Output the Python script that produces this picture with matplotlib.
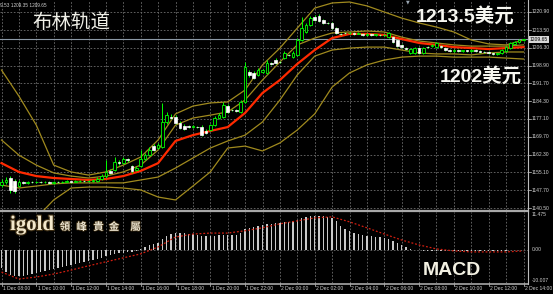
import matplotlib.pyplot as plt
import matplotlib.patheffects as pe
from matplotlib.lines import Line2D

W, H = 553, 294

# XAUUSD M15, 1 Dec 08:00 .. 2 Dec 14:00
opens = [1149.9, 1151.2, 1152.8, 1151.6, 1149.5, 1151.2, 1150.8, 1151.2, 1151.0, 1151.2,
         1151.0, 1151.2, 1150.8, 1151.2, 1151.0, 1151.2, 1151.4, 1151.2, 1151.4, 1151.6,
         1151.4, 1151.6, 1151.6, 1152.4, 1153.6, 1155.7, 1156.1, 1159.4, 1158.9, 1160.6,
         1157.7, 1156.1, 1157.7, 1160.6, 1162.2, 1165.9, 1165.1, 1165.5, 1175.8, 1177.8,
         1177.8, 1175.4, 1174.1, 1174.1, 1173.9, 1173.7, 1173.7, 1172.1, 1172.5, 1174.5,
         1177.4, 1177.8, 1182.3, 1180.7, 1180.5, 1179.9, 1184.0, 1196.3, 1195.9, 1195.1,
         1196.3, 1195.9, 1200.0, 1201.2, 1200.4, 1202.0, 1203.3, 1202.4, 1203.3, 1209.4,
         1212.7, 1215.6, 1218.9, 1219.3, 1217.6, 1216.4, 1216.4, 1214.3, 1211.9, 1212.3,
         1212.1, 1212.3, 1211.9, 1211.9, 1211.5, 1211.9, 1211.5, 1211.6, 1211.4, 1210.6,
         1210.6, 1209.4, 1207.4, 1206.1, 1204.1, 1204.1, 1206.1, 1204.1, 1206.5, 1206.9,
         1206.5, 1206.9, 1206.1, 1205.3, 1204.9, 1205.3, 1204.9, 1205.1, 1204.9, 1205.3,
         1204.9, 1204.5, 1204.3, 1204.1, 1203.7, 1204.1, 1204.9, 1206.1, 1207.8, 1208.6,
         1209.4]
highs = [1152.4, 1153.2, 1153.6, 1152.4, 1152.0, 1151.6, 1151.6, 1151.6, 1151.6, 1151.6,
         1151.5, 1151.4, 1151.6, 1151.5, 1151.6, 1151.8, 1151.7, 1151.8, 1152.0, 1151.8,
         1152.0, 1152.0, 1153.2, 1154.4, 1160.2, 1156.5, 1161.4, 1160.2, 1161.4, 1161.0,
         1158.1, 1157.7, 1164.3, 1163.1, 1165.5, 1166.8, 1167.2, 1183.6, 1179.9, 1179.1,
         1178.6, 1176.2, 1175.0, 1174.5, 1174.5, 1174.1, 1174.5, 1172.9, 1175.0, 1178.2,
         1179.5, 1184.0, 1183.2, 1181.1, 1181.0, 1184.8, 1200.4, 1197.1, 1196.7, 1197.9,
         1197.5, 1201.2, 1200.4, 1202.0, 1200.8, 1204.9, 1203.7, 1204.9, 1210.2, 1218.9,
         1216.4, 1219.3, 1219.7, 1220.1, 1218.0, 1216.8, 1216.8, 1214.7, 1212.3, 1212.7,
         1212.7, 1212.7, 1212.5, 1212.3, 1212.3, 1212.3, 1211.9, 1211.9, 1211.9, 1212.7,
         1211.1, 1209.8, 1207.8, 1206.5, 1206.1, 1206.5, 1206.5, 1206.5, 1206.9, 1207.8,
         1208.6, 1207.4, 1206.5, 1205.7, 1205.7, 1205.7, 1205.5, 1205.5, 1205.7, 1205.7,
         1205.3, 1204.9, 1204.7, 1204.5, 1204.1, 1205.7, 1206.9, 1208.6, 1209.0, 1209.8,
         1210.0]
lows = [1149.1, 1150.4, 1146.7, 1146.7, 1149.1, 1150.4, 1150.4, 1150.6, 1150.8, 1150.8,
        1150.7, 1150.4, 1150.4, 1150.7, 1150.8, 1151.0, 1150.9, 1151.0, 1151.2, 1151.0,
        1151.2, 1151.2, 1151.2, 1152.0, 1152.8, 1154.4, 1155.7, 1158.1, 1158.5, 1159.4,
        1154.9, 1155.7, 1157.3, 1160.2, 1161.8, 1163.9, 1164.7, 1165.1, 1175.0, 1177.0,
        1175.0, 1172.9, 1172.5, 1173.5, 1173.5, 1173.3, 1170.0, 1170.8, 1172.1, 1174.1,
        1177.0, 1177.4, 1179.5, 1180.1, 1179.9, 1179.5, 1183.6, 1194.2, 1193.4, 1194.6,
        1195.9, 1195.5, 1199.2, 1199.6, 1200.0, 1201.6, 1202.8, 1202.0, 1202.8, 1209.0,
        1212.3, 1215.2, 1217.2, 1216.8, 1216.0, 1215.8, 1213.9, 1211.9, 1211.5, 1211.7,
        1211.9, 1211.5, 1211.7, 1211.1, 1211.1, 1211.1, 1211.1, 1211.1, 1211.1, 1210.2,
        1208.2, 1206.5, 1206.1, 1205.3, 1203.7, 1203.7, 1203.7, 1203.7, 1206.1, 1206.5,
        1206.1, 1206.1, 1204.9, 1204.5, 1204.5, 1204.5, 1204.5, 1204.5, 1204.5, 1204.5,
        1204.1, 1203.9, 1203.7, 1203.3, 1203.3, 1203.7, 1204.5, 1205.7, 1207.4, 1208.2,
        1209.0]
closes = [1151.2, 1152.0, 1147.9, 1147.5, 1151.2, 1150.8, 1151.2, 1151.0, 1151.2, 1151.0,
          1151.2, 1150.8, 1151.2, 1151.0, 1151.2, 1151.4, 1151.2, 1151.4, 1151.6, 1151.4,
          1151.6, 1151.6, 1152.4, 1153.6, 1155.3, 1154.9, 1159.4, 1158.9, 1160.6, 1160.2,
          1155.7, 1156.9, 1160.6, 1162.2, 1164.3, 1164.3, 1166.3, 1175.8, 1178.6, 1177.6,
          1175.4, 1173.3, 1172.9, 1173.9, 1174.1, 1173.6, 1170.4, 1171.3, 1174.5, 1177.4,
          1178.6, 1182.8, 1179.9, 1180.5, 1180.3, 1184.0, 1198.3, 1195.1, 1193.8, 1197.1,
          1197.1, 1200.0, 1199.6, 1200.0, 1200.3, 1204.1, 1203.1, 1204.1, 1209.4, 1214.3,
          1215.6, 1218.4, 1217.6, 1217.2, 1216.4, 1216.2, 1214.3, 1212.3, 1211.8, 1212.1,
          1212.3, 1211.9, 1212.1, 1211.5, 1211.9, 1211.5, 1211.6, 1211.4, 1211.5, 1212.3,
          1208.6, 1206.9, 1206.5, 1205.7, 1205.7, 1206.1, 1204.1, 1206.1, 1206.4, 1207.4,
          1208.2, 1206.5, 1205.3, 1204.9, 1205.3, 1204.9, 1205.1, 1204.9, 1205.3, 1204.9,
          1204.5, 1204.3, 1204.1, 1203.7, 1203.9, 1205.3, 1206.5, 1208.2, 1208.6, 1209.4,
          1209.65]

line_idx = list(range(0, 121, 4))
ma_red = [1158.9, 1155.3, 1153.6, 1152.8, 1152.4, 1152.0, 1152.4, 1153.6, 1155.7, 1158.9,
          1168.0, 1170.4, 1172.1, 1173.7, 1179.5, 1187.7, 1193.0, 1199.6, 1205.3, 1210.2,
          1211.9, 1211.9, 1211.5, 1209.8, 1208.2, 1207.4, 1206.5, 1206.1, 1205.7, 1206.1,
          1206.5]
band_up_outer = [1197.1, 1186.4, 1174.5, 1158.1, 1155.3, 1154.0, 1155.3, 1158.1, 1161.4, 1168.4,
                 1179.1, 1182.3, 1183.6, 1184.0, 1188.9, 1199.2, 1206.1, 1214.3, 1222.5, 1224.6,
                 1225.0, 1223.4, 1220.9, 1218.4, 1216.4, 1214.7, 1212.7, 1209.4, 1207.8, 1207.4,
                 1209.4]
band_up_inner = [1168.4, 1162.2, 1158.1, 1154.9, 1153.6, 1152.8, 1153.6, 1155.3, 1158.1, 1164.3,
                 1174.5, 1177.4, 1178.6, 1179.9, 1184.8, 1193.0, 1200.4, 1207.4, 1210.2, 1212.3,
                 1212.7, 1213.1, 1212.7, 1210.6, 1209.0, 1208.2, 1207.4, 1206.9, 1206.9, 1206.9,
                 1207.4]
band_low_inner = [1149.9, 1148.7, 1149.5, 1150.4, 1150.8, 1150.8, 1150.8, 1150.8, 1152.0, 1153.2,
                  1156.9, 1161.0, 1165.1, 1168.0, 1170.4, 1175.8, 1184.8, 1195.1, 1202.8, 1205.3,
                  1206.1, 1206.5, 1206.5, 1205.3, 1204.1, 1203.7, 1203.7, 1203.3, 1204.1, 1204.5,
                  1204.5]
band_low_outer = [1119.2, 1127.4, 1136.4, 1143.8, 1148.7, 1149.1, 1149.1, 1148.7, 1147.9, 1145.0,
                  1143.8, 1149.5, 1155.3, 1165.1, 1165.9, 1163.9, 1167.2, 1172.5, 1179.1, 1190.1,
                  1195.9, 1199.2, 1201.2, 1202.4, 1202.8, 1202.8, 1202.4, 1202.4, 1202.4, 1202.0,
                  1201.6]

macd_hist = [-5.4, -6.7, -7.6, -7.9, -7.9, -7.9, -7.6, -7.3, -7.0, -6.7,
             -6.4, -6.1, -5.8, -5.4, -5.1, -4.8, -4.5, -4.2, -3.9, -3.6,
             -3.3, -3.0, -2.7, -2.4, -1.8, -1.5, -1.2, -0.9, -0.9, -0.6,
             -0.6, -0.3, 0.3, 0.9, 1.5, 1.8, 2.1, 3.3, 4.2, 4.8,
             5.1, 5.1, 5.1, 4.8, 4.8, 4.5, 4.2, 4.2, 4.2, 4.2,
             4.5, 4.5, 4.5, 4.5, 4.5, 5.1, 6.4, 6.7, 7.0, 7.3,
             7.6, 7.9, 7.9, 8.2, 8.2, 8.5, 8.5, 8.8, 9.1, 9.7,
             10.0, 10.3, 10.3, 10.3, 10.3, 10.0, 9.7, 8.8, 7.3, 6.4,
             5.7, 5.1, 4.8, 4.5, 4.2, 4.2, 3.9, 3.9, 3.6, 3.3,
             2.7, 2.1, 1.5, 0.9, 0.3, 0.0, -0.1, -0.2, -0.2, -0.3,
             -0.3, -0.3, -0.3, -0.3, -0.3, -0.3, -0.3, -0.3, -0.3, -0.3,
             -0.3, -0.3, -0.3, -0.3, -0.3, -0.2, -0.2, -0.1, -0.1, 0.0,
             0.1]
macd_signal = [-6.7, -8.8, -8.2, -7.3, -6.1, -4.8, -3.6, -2.4, -1.2, 0.9,
               3.9, 4.8, 5.1, 5.1, 5.8, 6.7, 7.9, 8.8, 9.7, 10.0,
               8.5, 6.7, 4.8, 3.0, 1.5, 0.3, -0.3, -0.6, -0.6, -0.6,
               -0.3]

price_ticks = [1220.90, 1213.50, 1206.30, 1198.90, 1191.70, 1184.30,
               1177.10, 1169.70, 1162.30, 1155.10, 1147.70, 1140.50]
last_price = 1209.65
time_labels = ['1 Dec 08:00', '1 Dec 10:00', '1 Dec 12:00', '1 Dec 14:00',
               '1 Dec 16:00', '1 Dec 18:00', '1 Dec 20:00', '1 Dec 22:00',
               '2 Dec 00:00', '2 Dec 02:00', '2 Dec 04:00', '2 Dec 06:00',
               '2 Dec 08:00', '2 Dec 10:00', '2 Dec 12:00', '2 Dec 14:00']


def fx(x):
    return x / W


def fy(y):
    return 1 - y / H


BAR = 4.35     # пикселей на свечу
X0 = 1.5       # пиксель первой свечи
RIGHT = 528    # правая граница графика
GRID = '#6e6e6e'
LIME = '#00ff00'
OLIVE = '#a08a1e'
TXT = '#cfcfcf'
small = dict(family='Liberation Sans', fontsize=3.6, color=TXT)

fig = plt.figure(figsize=(W / 100, H / 100), dpi=100, facecolor='black')
ax = fig.add_axes([0, fy(210), RIGHT / W, 210 / H])
axm = fig.add_axes([0, fy(283), RIGHT / W, 71 / H])
xlim = (-X0 / BAR, (RIGHT - X0) / BAR)
for a in (ax, axm):
    a.set_facecolor('black')
    a.set_xlim(*xlim)
    a.set_xticks([])
    a.set_yticks([])
    for s in a.spines.values():
        s.set_visible(False)
ax.set_ylim(1139.68, 1225.82)
axm.set_ylim(-10.007, 11.475)

# сетка
for p in price_ticks:
    ax.axhline(p, color=GRID, lw=0.6, ls=(0, (2, 2)), zorder=0)
for i in range(0, 121, 4):
    ax.axvline(i, color=GRID, lw=0.6, ls=(0, (2, 2)), zorder=0)
    axm.axvline(i, color=GRID, lw=0.6, ls=(0, (2, 2)), zorder=0)
axm.axhline(0, color=GRID, lw=0.6, ls=(0, (2, 2)), zorder=0)

# линия текущей цены
ax.axhline(last_price, color='#8c99a6', lw=0.8, zorder=1)

# полосы и МА
for band in (band_up_outer, band_up_inner, band_low_inner, band_low_outer):
    ax.plot(line_idx, band, color=OLIVE, lw=0.9, zorder=2)
ax.plot(line_idx, ma_red, color='#ff2a00', lw=1.6, zorder=3)

# свечи
n = len(closes)
for i in range(n):
    o, h, l, c = opens[i], highs[i], lows[i], closes[i]
    ax.vlines(i, l, h, color=LIME, lw=0.7, zorder=4)
    body = max(abs(c - o), 0.25)
    if c >= o:
        ax.bar(i, body, bottom=o, width=0.62, color='black', edgecolor=LIME, lw=0.6, zorder=5)
    else:
        ax.bar(i, body, bottom=c, width=0.62, color='white', edgecolor='white', lw=0.5, zorder=5)

# MACD
axm.bar(range(n), macd_hist, width=0.3, color='#c8c8c8', zorder=2)
axm.plot(line_idx, macd_signal, color='#d01e10', lw=0.9, ls=(0, (1.5, 1.5)), zorder=3)

# рамки
fig.add_artist(Line2D([0, fx(RIGHT)], [fy(210.5), fy(210.5)], color='#a8a8a8', lw=1.6))
fig.add_artist(Line2D([0, fx(RIGHT)], [fy(283.5), fy(283.5)], color='#a8a8a8', lw=1.2))
fig.add_artist(Line2D([fx(RIGHT), fx(RIGHT)], [fy(0), fy(284)], color='#bcbcbc', lw=0.8))

# подписи цен справа
yt = ax.get_yaxis_transform()
for p in price_ticks:
    ax.text(1 + 4 / RIGHT, p, f'{p:.2f}', transform=yt, va='center', ha='left',
            clip_on=False, **small)
    ax.plot([1, 1 + 3 / RIGHT], [p, p], transform=yt, color=TXT, lw=0.5, clip_on=False)
ax.text(1 + 2 / RIGHT, last_price, f'{last_price:.2f}', transform=yt, va='center', ha='left',
        clip_on=False, family='Liberation Sans', fontsize=3.6, color='black',
        bbox=dict(boxstyle='square,pad=0.25', fc='#d8d8d8', ec='none'))

ym = axm.get_yaxis_transform()
axm.text(1 + 4 / RIGHT, 11.475, '11.475', transform=ym, va='top', ha='left', clip_on=False, **small)
axm.text(1 + 4 / RIGHT, 0, '0.00', transform=ym, va='center', ha='left', clip_on=False, **small)
axm.text(1 + 4 / RIGHT, -10.007, '-10.007', transform=ym, va='bottom', ha='left', clip_on=False, **small)

# время
xt = axm.get_xaxis_transform()
for k, lab in enumerate(time_labels):
    i = k * 8
    axm.text(i + 0.3, -6 / 71, lab, transform=xt, va='center', ha='left', clip_on=False, **small)
    axm.plot([i, i], [0, -3 / 71], transform=xt, color=TXT, lw=0.5, clip_on=False)

# шапка
fig.text(fx(0), fy(5.5), '9.53 1209.35 1209.65', va='center', ha='left',
         family='Liberation Sans', fontsize=3.4, color=TXT)
fig.text(fx(408), fy(2), '▼', va='center', ha='center', fontsize=3.5, color='#9aa6b2')

# надписи
cjk = ['Noto Sans CJK SC', 'DejaVu Sans']
fig.text(fx(71), fy(22.5), '布林轨道', va='center', ha='center', family=cjk,
         fontsize=14, color='#f0f0e8')
fig.text(fx(465), fy(16.5), '1213.5美元', va='center', ha='center',
         family=['Liberation Sans', 'Noto Sans CJK SC'], fontsize=14, weight='bold', color='#f6f6f0')
fig.text(fx(481), fy(76.5), '1202美元', va='center', ha='center',
         family=['Liberation Sans', 'Noto Sans CJK SC'], fontsize=14, weight='bold', color='#f6f6f0')
fig.text(fx(451.5), fy(270.5), 'MACD', va='center', ha='center',
         family='Liberation Sans', fontsize=14, weight='bold', color='#f2f0e2')

# логотип
fig.text(fx(10), fy(225), 'igold', va='center', ha='left', family='Liberation Serif',
         fontsize=15, weight='bold', color='#f3e8cc',
         path_effects=[pe.withStroke(linewidth=1.6, foreground='#3b2c12')])
for cx, ch in zip([65, 81.5, 98.5, 114, 135.5], '領峰貴金屬'):
    fig.text(fx(cx), fy(227), ch, va='center', ha='center',
             family=['Noto Sans CJK TC', 'DejaVu Sans'], fontsize=7.5, weight='bold',
             color='#ece4d0',
             path_effects=[pe.withStroke(linewidth=1.0, foreground='#3b2c12')])

fig.savefig('out.png', dpi=100, facecolor='black')
